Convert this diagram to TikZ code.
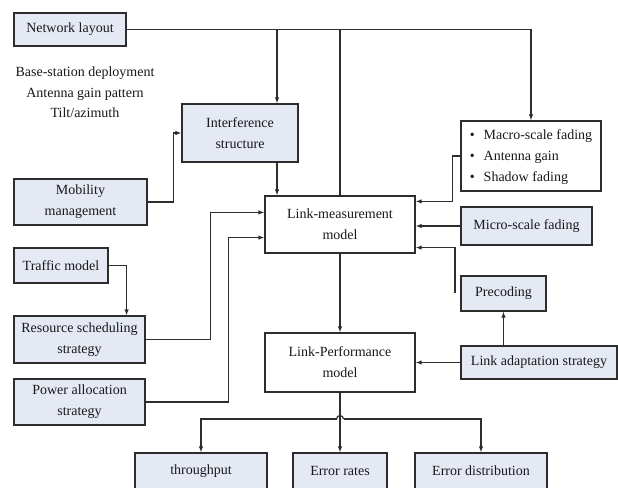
\documentclass[tikz,border=0pt]{standalone}
\usepackage{fontspec}
\setmainfont{Liberation Serif}
\usetikzlibrary{arrows.meta,calc}
\definecolor{boxfill}{RGB}{228,233,244}
\definecolor{linec}{RGB}{45,45,45}
\begin{document}
\begin{tikzpicture}[x=1pt,y=-1pt,
  every node/.style={font=\fontsize{14}{21}\selectfont, text=black!90},
  box/.style={draw=linec, line width=1.2pt, fill=boxfill, inner sep=2pt, align=center},
  wbox/.style={box, fill=white},
  conn/.style={draw=linec, line width=1.2pt},
  arr/.style={conn, -{Latex[length=6pt,width=4.5pt]}}]
\useasboundingbox (0,0) rectangle (618,487);
\clip (0,0) rectangle (618,487);
\fill[white] (0,0) rectangle (618,487);
% nodes
\node[box, minimum width=112, minimum height=33] (net) at (70,29.5) {Network layout};
\node[align=center, font=\fontsize{14}{20.5}\selectfont] (bsd) at (85,92.5) {Base-station deployment\\Antenna gain pattern\\Tilt/azimuth};
\node[box, minimum width=116, minimum height=58] (intf) at (240,133) {Interference\\structure};
\node[box, minimum width=133, minimum height=46] (mob) at (80.5,202) {Mobility\\management};
\node[box, minimum width=94, minimum height=35] (tra) at (61,265.5) {Traffic model};
\node[box, minimum width=131, minimum height=47] (res) at (79.5,339.5) {Resource scheduling\\strategy};
\node[box, minimum width=131, minimum height=46] (pow) at (79.5,402) {Power allocation\\strategy};
\node[wbox, minimum width=150, minimum height=57] (lm) at (340,224.5) {Link-measurement\\model};
\node[wbox, minimum width=140, minimum height=70, align=left] (mac) at (531,156)
  {\def\arraystretch{1}\begin{tabular}{@{}l@{\hspace{9pt}}l@{}}\textbullet & Macro-scale fading\\ \textbullet & Antenna gain\\ \textbullet & Shadow fading\end{tabular}};
\node[box, minimum width=131, minimum height=38] (mic) at (526.5,226) {Micro-scale fading};
\node[box, minimum width=85, minimum height=35] (pre) at (503.5,293.5) {Precoding};
\node[box, minimum width=156, minimum height=33] (lad) at (539,362.5) {Link adaptation strategy};
\node[wbox, minimum width=150, minimum height=59] (lp) at (340,362.5) {Link-Performance\\model};
\node[box, minimum width=132, minimum height=36] (thr) at (201,471) {throughput};
\node[box, minimum width=94, minimum height=36] (err) at (340,471) {Error rates};
\node[box, minimum width=132, minimum height=36] (dis) at (481,471) {Error distribution};
% connectors
\coordinate (j1) at (277,30);
\coordinate (pf) at (455,293);
\coordinate (hb) at (340,419);
\draw[arr] (net.east) -| (mac.north);
\draw[arr] (j1) -- (j1 |- intf.north);
\draw[conn] (net.east -| lm.north) -- (lm.north);
\draw[arr] (j1 |- intf.south) -- (j1 |- lm.north);
\draw[arr] (mob.east) -- ++(26,0) |- (intf.west);
\draw[arr] (mac.west) -- ++(-8,0) |- ($(lm.north east)+(0,6)$);
\draw[arr] (mic.west) -- (mic.west -| lm.east);
\draw[arr] (pf) |- ($(lm.south east)+(0,-6)$);
\draw[arr] (pre.south |- lad.north) -- (pre.south);
\draw[arr] (lad.west) -- (lp.east);
\draw[arr] (lm.south) -- (lp.north);
\draw[arr] (lp.south) -- (err.north);
\draw[arr] ($(hb)+(-3.5,0)$) -- (thr.north |- hb) -- (thr.north);
\draw[arr] ($(hb)+(3.5,0)$) -- (dis.north |- hb) -- (dis.north);
\draw[conn] ($(hb)+(-3.5,0)$) .. controls ($(hb)+(-3.5,-4.5)$) and ($(hb)+(3.5,-4.5)$) .. ($(hb)+(3.5,0)$);
\draw[arr] (tra.east) -- ++(18,0) coordinate (t1) -- (t1 |- res.north);
\draw[arr] (res.east) -- ++(65,0) |- ($(lm.north west)+(0,17)$);
\draw[arr] (pow.east) -- ++(83,0) |- ($(lm.south west)+(0,-16)$);
\end{tikzpicture}
\end{document}
